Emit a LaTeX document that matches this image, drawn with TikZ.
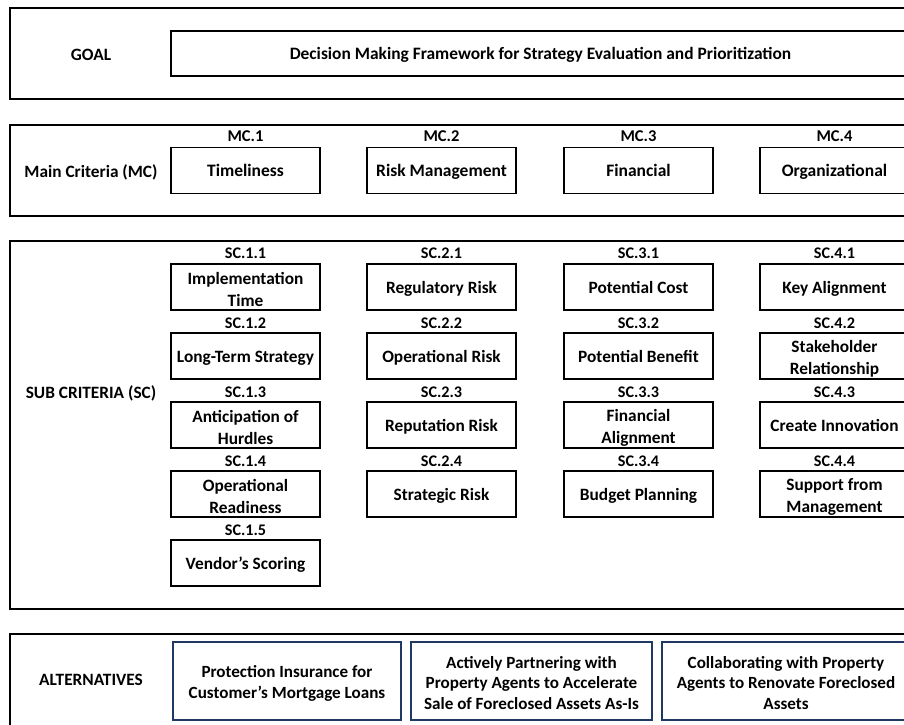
\documentclass[tikz,border=0pt]{standalone}
\usepackage{fontspec}
\setmainfont{Carlito}
\definecolor{navy}{HTML}{1F3864}
\newcommand\topstrut{\rule{0pt}{17pt}}
\begin{document}
\begin{tikzpicture}[x=1pt,y=-1pt,
  panel/.style={draw,line width=2.6pt},
  side/.style={font=\bfseries\fontsize{17.3}{20}\selectfont,anchor=center},
  cbox/.style={draw,line width=1.4pt,minimum width=149pt,minimum height=46pt,inner sep=0pt,align=center,font=\bfseries\fontsize{17.3}{22}\selectfont},
  one/.style={text height=16pt,text depth=4pt},
  mbox/.style={cbox,one,font=\bfseries\fontsize{17.5}{20}\selectfont},
  code/.style={font=\bfseries\fontsize{16.2}{18}\selectfont,inner sep=0pt},
  mcode/.style={font=\bfseries\fontsize{16.5}{18}\selectfont,inner sep=0pt},
  altbox/.style={draw=navy,line width=2pt,minimum height=78pt,inner sep=0pt,align=center,font=\bfseries\fontsize{17.1}{20.5}\selectfont}]
\useasboundingbox (0,0) rectangle (904,724);
\clip (0,0) rectangle (904,724);
% panels
\draw[panel] (10,8) rectangle (940,99);
\draw[panel] (10,125) rectangle (940,216);
\draw[panel] (10,241) rectangle (940,609);
\draw[panel] (10,634) rectangle (940,760);
% goal
\node[side] (goallbl) at (91,55) {GOAL};
\node[draw,one,line width=1.4pt,minimum width=739pt,minimum height=45pt,inner sep=0pt,font=\bfseries\fontsize{17.4}{20}\selectfont] (goal) at (540.5,53.5) {Decision Making Framework for Strategy Evaluation and Prioritization};
% main criteria
\node[side] (mclbl) at (91,172) {Main Criteria (MC)};
\node[mbox] (mc1) at (245.5,170.5) {Timeliness};
\node[mbox] (mc2) at (441.5,170.5) {Risk Management};
\node[mbox] (mc3) at (638.5,170.5) {Financial};
\node[mbox] (mc4) at (834.5,170.5) {Organizational};
\node[mcode] (mc1c) at (245.5,136) {MC.1};
\node[mcode] (mc2c) at (441.5,136) {MC.2};
\node[mcode] (mc3c) at (638.5,136) {MC.3};
\node[mcode] (mc4c) at (834.5,136) {MC.4};
% sub criteria
\node[side] (sclbl) at (91,393) {SUB CRITERIA (SC)};
% column 1
\node[code] (c11) at (245.5,253) {SC.1.1};
\node[cbox] (s11) at (245.5,287) {\topstrut Implementation\\Time};
\node[code] (c12) at (245.5,323) {SC.1.2};
\node[cbox,one] (s12) at (245.5,356) {Long-Term Strategy};
\node[code] (c13) at (245.5,392) {SC.1.3};
\node[cbox] (s13) at (245.5,425) {\topstrut Anticipation of\\Hurdles};
\node[code] (c14) at (245.5,461) {SC.1.4};
\node[cbox] (s14) at (245.5,494) {\topstrut Operational\\Readiness};
\node[code] (c15) at (245.5,530) {SC.1.5};
\node[cbox,one] (s15) at (245.5,563) {Vendor’s Scoring};
% column 2
\node[code] (c21) at (441.5,253) {SC.2.1};
\node[cbox,one] (s21) at (441.5,287) {Regulatory Risk};
\node[code] (c22) at (441.5,323) {SC.2.2};
\node[cbox,one] (s22) at (441.5,356) {Operational Risk};
\node[code] (c23) at (441.5,392) {SC.2.3};
\node[cbox,one] (s23) at (441.5,425) {Reputation Risk};
\node[code] (c24) at (441.5,461) {SC.2.4};
\node[cbox,one] (s24) at (441.5,494) {Strategic Risk};
% column 3
\node[code] (c31) at (638.5,253) {SC.3.1};
\node[cbox,one] (s31) at (638.5,287) {Potential Cost};
\node[code] (c32) at (638.5,323) {SC.3.2};
\node[cbox,one] (s32) at (638.5,356) {Potential Benefit};
\node[code] (c33) at (638.5,392) {SC.3.3};
\node[cbox] (s33) at (638.5,425) {\topstrut Financial\\Alignment};
\node[code] (c34) at (638.5,461) {SC.3.4};
\node[cbox,one] (s34) at (638.5,494) {Budget Planning};
% column 4
\node[code] (c41) at (834.5,253) {SC.4.1};
\node[cbox,one] (s41) at (834.5,287) {Key Alignment};
\node[code] (c42) at (834.5,323) {SC.4.2};
\node[cbox] (s42) at (834.5,356) {\topstrut Stakeholder\\Relationship};
\node[code] (c43) at (834.5,392) {SC.4.3};
\node[cbox,one] (s43) at (834.5,425) {Create Innovation};
\node[code] (c44) at (834.5,461) {SC.4.4};
\node[cbox] (s44) at (834.5,494) {\topstrut Support from\\Management};
% alternatives
\node[side] (altlbl) at (91,680) {ALTERNATIVES};
\node[altbox,minimum width=228pt] (a1) at (287,681) {\topstrut Protection Insurance for\\Customer’s Mortgage Loans};
\node[altbox,minimum width=241pt] (a2) at (531.5,681) {\rule{0pt}{16pt}Actively Partnering with\\Property Agents to Accelerate\\Sale of Foreclosed Assets As-Is};
\node[altbox,minimum width=248pt] (a3) at (786,681) {\rule{0pt}{15.5pt}Collaborating with Property\\Agents to Renovate Foreclosed\\Assets};
\end{tikzpicture}
\end{document}
